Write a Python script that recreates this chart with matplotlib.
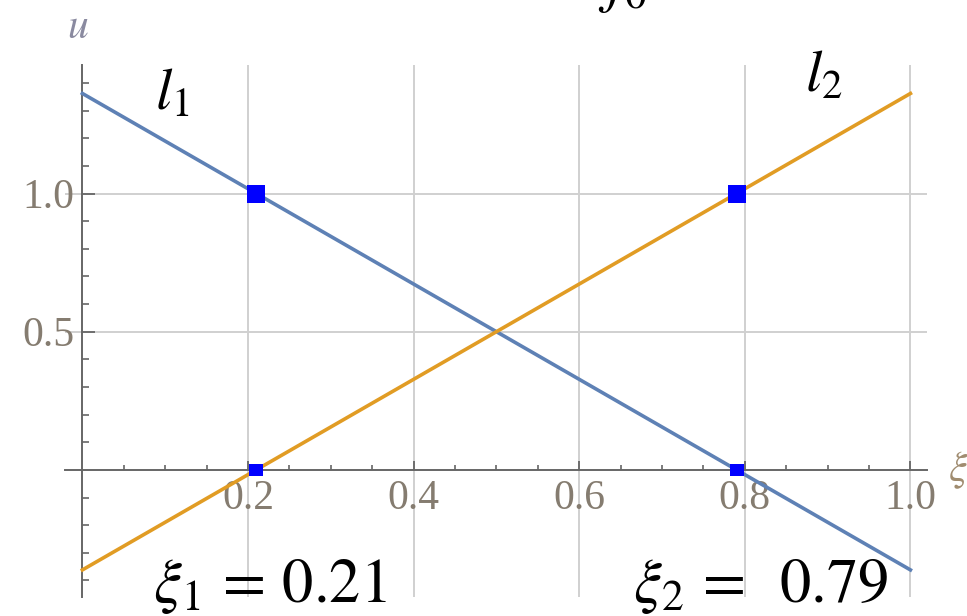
import matplotlib.pyplot as plt
from matplotlib.ticker import FixedLocator

plt.rcParams['mathtext.fontset'] = 'stix'

# end values of the two lines over [0, 1]
x_ends = [0.0, 1.0]
l1_vals = [1.362, -0.362]
l2_vals = [-0.362, 1.362]

# roots and crossing points
xi_vals = [0.21, 0.79]
top_u = [1.0, 1.0]
root_u = [0.0, 0.0]

x_major = [0.2, 0.4, 0.6, 0.8, 1.0]
x_minor = [0.05, 0.1, 0.15, 0.25, 0.3, 0.35, 0.45, 0.5, 0.55, 0.65, 0.7, 0.75,
           0.85, 0.9, 0.95]
y_major = [0.5, 1.0]
y_minor = [-0.4, -0.3, -0.2, -0.1, 0.1, 0.2, 0.3, 0.4, 0.6, 0.7, 0.8, 0.9,
           1.1, 1.2, 1.3, 1.4]

tick_col = '#857c70'
axis_col = '#666666'

fig = plt.figure(figsize=(9.67, 6.16), dpi=100)
ax = fig.add_axes([65 / 967, 1 - 597 / 616, (927 - 65) / 967, (597 - 65) / 616])
ax.set_xlim(-0.021, 1.02)
ax.set_ylim(-0.46, 1.465)

# Mathematica-style axes crossing at the origin
for s in ['top', 'right']:
    ax.spines[s].set_visible(False)
ax.spines['left'].set_position(('data', 0))
ax.spines['bottom'].set_position(('data', 0))
for s in ['left', 'bottom']:
    ax.spines[s].set_color(axis_col)
    ax.spines[s].set_linewidth(1.4)

ax.xaxis.set_major_locator(FixedLocator(x_major))
ax.xaxis.set_minor_locator(FixedLocator(x_minor))
ax.yaxis.set_major_locator(FixedLocator(y_major))
ax.yaxis.set_minor_locator(FixedLocator(y_minor))
ax.set_xticklabels(['%.1f' % v for v in x_major])
ax.set_yticklabels(['%.1f' % v for v in y_major])

ax.tick_params(axis='x', which='major', direction='in', length=6.5, width=1.3,
               color=axis_col, pad=7, labelsize=30, labelcolor=tick_col)
ax.tick_params(axis='x', which='minor', direction='in', length=3.6, width=1.2,
               color=axis_col)
ax.tick_params(axis='y', which='major', direction='in', length=9, width=1.3,
               color=axis_col, pad=6, labelsize=30, labelcolor=tick_col)
ax.tick_params(axis='y', which='minor', direction='in', length=5, width=1.2,
               color=axis_col)
for lab in ax.get_xticklabels() + ax.get_yticklabels():
    lab.set_family('Liberation Serif')

# grid
for gx in x_major:
    ax.axvline(gx, color='#d0d0d0', lw=1.4, zorder=0)
for gy in y_major:
    ax.axhline(gy, color='#d0d0d0', lw=1.4, zorder=0)

ax.plot(x_ends, l1_vals, color='#5e81b5', lw=2.6, zorder=3, clip_on=False)
ax.plot(x_ends, l2_vals, color='#e19c24', lw=2.6, zorder=3, clip_on=False)

ax.plot(xi_vals, top_u, 's', color='#0000ff', ms=12.5, mew=0, zorder=4)
flat_box = [(-1, -0.8), (1, -0.8), (1, 0.8), (-1, 0.8), (-1, -0.8)]
ax.plot(xi_vals, root_u, marker=flat_box, ls='none', color='#0000ff', ms=10.5,
        mew=0, zorder=4)

# axis names
ax.text(-0.005, 1.605, r'$u$', fontsize=30, color='#8a8aa0', ha='center',
        va='center', clip_on=False)
ax.text(1.045, 0.0, r'$\xi$', fontsize=30, color='#a08c70', ha='left',
        va='center', clip_on=False)

# line and root annotations
ax.text(0.0876, 1.304, r'$l_1$', fontsize=42, ha='left', va='baseline')
ax.text(0.8726, 1.37, r'$l_2$', fontsize=42, ha='left', va='baseline')
ax.text(0.085, -0.478, r'$\xi_1\,=\,0.21$', fontsize=45, ha='left',
        va='baseline', clip_on=False)
ax.text(0.665, -0.478, r'$\xi_2\,=\;\;0.79$', fontsize=45, ha='left',
        va='baseline', clip_on=False)
ax.text(0.623, 1.70, r'$f_0$', fontsize=45, ha='left', va='baseline',
        clip_on=False)

fig.savefig('out.png', dpi=100)
